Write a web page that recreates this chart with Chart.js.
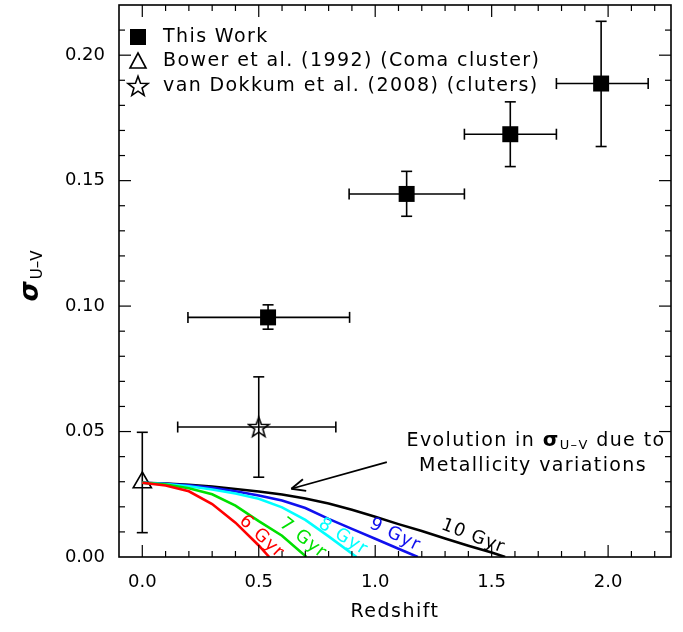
<!DOCTYPE html>
<html>
<head>
<meta charset="utf-8">
<script src="https://cdn.jsdelivr.net/npm/chart.js@4.4.0/dist/chart.umd.min.js"></script>
<style>
  html, body { margin: 0; padding: 0; background: #fff; }
  #wrap { width: 683px; height: 632px; }
</style>
</head>
<body>
<div id="wrap"><canvas id="chart"></canvas></div>
<script>
// --- This Work (filled squares) ---
const workZ   = [0.54, 1.135, 1.58, 1.97];
const workS   = [0.0955, 0.1447, 0.1685, 0.1887];
const workZLo = [0.196, 0.888, 1.383, 1.778];
const workZHi = [0.890, 1.383, 1.778, 2.172];
const workSLo = [0.0908, 0.1358, 0.1556, 0.1636];
const workSHi = [0.1005, 0.1537, 0.1814, 0.2135];

// --- Bower et al. (1992), Coma ---
const bowerZ   = [0.0];
const bowerS   = [0.0297];
const bowerSLo = [0.0097];
const bowerSHi = [0.0497];

// --- van Dokkum et al. (2008) ---
const vdkZ   = [0.5];
const vdkS   = [0.0518];
const vdkZLo = [0.152];
const vdkZHi = [0.831];
const vdkSLo = [0.0318];
const vdkSHi = [0.0718];

// --- metallicity tracks (formation ages) ---
const z6  = [0, 0.1, 0.2, 0.3, 0.4, 0.5, 0.545];
const s6  = [0.0296, 0.0285, 0.0262, 0.0211, 0.0137, 0.0046, 0];
const z7  = [0, 0.1, 0.2, 0.3, 0.4, 0.5, 0.6, 0.705];
const s7  = [0.0296, 0.0289, 0.0274, 0.025, 0.0205, 0.0143, 0.0085, 0];
const z8  = [0, 0.1, 0.2, 0.3, 0.4, 0.5, 0.6, 0.7, 0.8, 0.92];
const s8  = [0.0296, 0.0291, 0.0282, 0.0269, 0.0253, 0.0232, 0.0198, 0.0148, 0.0082, 0];
const z9  = [0, 0.1, 0.2, 0.3, 0.4, 0.5, 0.6, 0.7, 0.8, 0.9, 1.0, 1.1, 1.183];
const s9  = [0.0296, 0.0292, 0.0286, 0.0276, 0.0262, 0.0245, 0.0225, 0.0195, 0.0152, 0.0112, 0.0073, 0.0033, 0];
const z10 = [0, 0.1, 0.2, 0.3, 0.4, 0.5, 0.6, 0.7, 0.8, 0.9, 1.0, 1.1, 1.2, 1.3, 1.4, 1.5, 1.558];
const s10 = [0.0296, 0.0293, 0.0288, 0.0281, 0.0271, 0.0261, 0.0249, 0.0233, 0.0213, 0.0188, 0.016, 0.0131, 0.0104, 0.0074, 0.0045, 0.0018, 0];

const trackNames  = ['6 Gyr', '7 Gyr', '8 Gyr', '9 Gyr', '10 Gyr'];
const trackColors = ['#ff0000', '#00e000', '#00ffff', '#1010ee', '#000000'];

const xMin = -0.1, xMax = 2.27;
const yMin = 0, yMax = 0.22;

const FONT = "'DejaVu Sans', sans-serif";

function pairs(xs, ys) {
  return xs.map((v, i) => ({ x: v, y: ys[i] }));
}

// outline star drawn once, used as point style
function starPath(ctx, cx, cy, rOut, rIn) {
  ctx.beginPath();
  for (let i = 0; i < 10; i++) {
    const r = i % 2 === 0 ? rOut : rIn;
    const a = -Math.PI / 2 + i * Math.PI / 5;
    const px = cx + r * Math.cos(a), py = cy + r * Math.sin(a);
    if (i === 0) ctx.moveTo(px, py); else ctx.lineTo(px, py);
  }
  ctx.closePath();
}
const starImg = document.createElement('canvas');
starImg.width = 24; starImg.height = 24;
(function () {
  const c = starImg.getContext('2d');
  c.strokeStyle = '#000';
  c.lineWidth = 1.6;
  starPath(c, 12, 12.8, 10.5, 4.3);
  c.stroke();
})();

function line(ctx, x1, y1, x2, y2) {
  ctx.beginPath();
  ctx.moveTo(x1, y1);
  ctx.lineTo(x2, y2);
  ctx.stroke();
}

// error bars, drawn through the chart scales
const errorBars = {
  id: 'errorBars',
  beforeDatasetsDraw(chart) {
    const { ctx, scales: { x, y } } = chart;
    ctx.save();
    ctx.strokeStyle = '#000';
    ctx.lineWidth = 1.6;
    const draw = (zs, ss, zlo, zhi, slo, shi, cap) => {
      zs.forEach((z, i) => {
        const px = x.getPixelForValue(z), py = y.getPixelForValue(ss[i]);
        if (zlo && zhi) {
          const l = x.getPixelForValue(zlo[i]), r = x.getPixelForValue(zhi[i]);
          line(ctx, l, py, r, py);
          line(ctx, l, py - cap, l, py + cap);
          line(ctx, r, py - cap, r, py + cap);
        }
        if (slo && shi) {
          const b = y.getPixelForValue(slo[i]), t = y.getPixelForValue(shi[i]);
          line(ctx, px, b, px, t);
          line(ctx, px - cap, b, px + cap, b);
          line(ctx, px - cap, t, px + cap, t);
        }
      });
    };
    draw(workZ, workS, workZLo, workZHi, workSLo, workSHi, 5.5);
    draw(bowerZ, bowerS, null, null, bowerSLo, bowerSHi, 5.5);
    draw(vdkZ, vdkS, vdkZLo, vdkZHi, vdkSLo, vdkSHi, 5.5);
    ctx.restore();
  }
};

// box, inward ticks on all four sides, texts
const decorations = {
  id: 'decorations',
  afterDraw(chart) {
    const { ctx, chartArea: a, scales: { x, y } } = chart;
    ctx.save();
    ctx.strokeStyle = '#000';
    ctx.lineWidth = 1.2;
    for (let i = -1; i <= 23; i++) {
      const px = x.getPixelForValue(i / 10);
      if (px <= a.left + 1 || px >= a.right - 1) continue;
      const len = i % 5 === 0 ? 12 : 6;
      line(ctx, px, a.bottom, px, a.bottom - len);
      line(ctx, px, a.top, px, a.top + len);
    }
    for (let i = 0; i <= 22; i++) {
      const py = y.getPixelForValue(i / 100);
      if (py >= a.bottom - 1 || py <= a.top + 1) continue;
      const len = i % 5 === 0 ? 12 : 6;
      line(ctx, a.left, py, a.left + len, py);
      line(ctx, a.right, py, a.right - len, py);
    }
    ctx.lineWidth = 1.6;
    ctx.strokeRect(a.left, a.top, a.right - a.left, a.bottom - a.top);

    ctx.fillStyle = '#000';
    ctx.textBaseline = 'middle';
    ctx.textAlign = 'left';
    ctx.font = '19px ' + FONT;
    ctx.letterSpacing = '1.4px';

    // legend
    const lx = a.left + 19;
    ctx.fillRect(lx - 8, 29, 16, 16);
    ctx.lineWidth = 1.6;
    ctx.beginPath();
    ctx.moveTo(lx, 53); ctx.lineTo(lx + 8, 68); ctx.lineTo(lx - 8, 68); ctx.closePath();
    ctx.stroke();
    ctx.drawImage(starImg, lx - 12, 74);
    ctx.fillText('This Work', a.left + 44, 37);
    ctx.fillText('Bower et al. (1992) (Coma cluster)', a.left + 44, 61);
    ctx.fillText('van Dokkum et al. (2008) (cluters)', a.left + 44, 86);

    // annotation with arrow
    const parts = [
      { t: 'Evolution in ', f: '19px ' + FONT, dy: 0 },
      { t: 'σ', f: 'bold 20px ' + FONT, dy: 0 },
      { t: 'U\u2013V', f: '13px ' + FONT, dy: 5 },
      { t: ' due to', f: '19px ' + FONT, dy: 0 }
    ];
    let w = 0;
    parts.forEach(p => { ctx.font = p.f; p.w = ctx.measureText(p.t).width; w += p.w; });
    let cx = 536 - w / 2;
    parts.forEach(p => { ctx.font = p.f; ctx.fillText(p.t, cx, 441 + p.dy); cx += p.w; });
    ctx.font = '19px ' + FONT;
    ctx.textAlign = 'center';
    ctx.fillText('Metallicity variations', 533, 466);

    const tipX = x.getPixelForValue(0.64), tipY = y.getPixelForValue(0.0272);
    const tailX = x.getPixelForValue(1.05), tailY = y.getPixelForValue(0.0378);
    ctx.lineWidth = 1.8;
    line(ctx, tailX, tailY, tipX, tipY);
    const ang = Math.atan2(tailY - tipY, tailX - tipX);
    [0.42, -0.42].forEach(d => {
      line(ctx, tipX, tipY, tipX + 15 * Math.cos(ang + d), tipY + 15 * Math.sin(ang + d));
    });

    // track labels
    const lab = [
      { z: 0.512, s: 0.0080, r: 43 },
      { z: 0.690, s: 0.0074, r: 38 },
      { z: 0.862, s: 0.0080, r: 32 },
      { z: 1.085, s: 0.0088, r: 26 },
      { z: 1.420, s: 0.0082, r: 21 }
    ];
    ctx.font = '18px ' + FONT;
    ctx.letterSpacing = '1px';
    lab.forEach((l, i) => {
      ctx.save();
      ctx.translate(x.getPixelForValue(l.z), y.getPixelForValue(l.s));
      ctx.rotate(l.r * Math.PI / 180);
      ctx.fillStyle = trackColors[i];
      ctx.fillText(trackNames[i], 0, 0);
      ctx.restore();
    });

    // axis titles
    ctx.letterSpacing = '1.5px';
    ctx.font = '19px ' + FONT;
    ctx.fillStyle = '#000';
    ctx.fillText('Redshift', (a.left + a.right) / 2, 612);

    ctx.save();
    ctx.translate(38, 276);
    ctx.rotate(-Math.PI / 2);
    ctx.textAlign = 'left';
    ctx.textBaseline = 'alphabetic';
    ctx.letterSpacing = '0px';
    ctx.font = 'italic bold 26px ' + FONT;
    const sw = ctx.measureText('σ').width;
    ctx.font = '15px ' + FONT;
    const uw = ctx.measureText('U\u2013V').width;
    const start = -(sw + uw + 2) / 2;
    ctx.font = 'italic bold 26px ' + FONT;
    ctx.fillText('σ', start, 0);
    ctx.font = '15px ' + FONT;
    ctx.fillText('U\u2013V', start + sw + 2, 4);
    ctx.restore();

    ctx.restore();
  }
};

const trackData = [[z6, s6], [z7, s7], [z8, s8], [z9, s9], [z10, s10]];
const trackSets = trackData.map((t, i) => ({
  label: trackNames[i],
  data: pairs(t[0], t[1]),
  showLine: true,
  borderColor: trackColors[i],
  borderWidth: 2.6,
  pointRadius: 0,
  tension: 0,
  fill: false
}));

new Chart(document.getElementById('chart'), {
  type: 'scatter',
  data: {
    datasets: [
      ...trackSets,
      {
        label: 'This Work',
        data: pairs(workZ, workS),
        pointStyle: 'rect',
        pointRadius: 11.3,
        backgroundColor: '#000',
        borderColor: '#000',
        borderWidth: 0
      },
      {
        label: 'Bower et al. (1992) (Coma cluster)',
        data: pairs(bowerZ, bowerS),
        pointStyle: 'triangle',
        pointRadius: 10.5,
        backgroundColor: 'rgba(0,0,0,0)',
        borderColor: '#000',
        borderWidth: 1.6
      },
      {
        label: 'van Dokkum et al. (2008) (cluters)',
        data: pairs(vdkZ, vdkS),
        pointStyle: starImg,
        pointRadius: 12
      }
    ]
  },
  options: {
    responsive: true,
    maintainAspectRatio: false,
    animation: false,
    events: [],
    layout: { autoPadding: false, padding: { top: 5, right: 12, left: 0, bottom: 0 } },
    plugins: {
      legend: { display: false },
      tooltip: { enabled: false }
    },
    scales: {
      x: {
        type: 'linear',
        min: xMin,
        max: xMax,
        afterFit: s => { s.height = 75; s.paddingLeft = 0; s.paddingRight = 0; },
        grid: { display: false, drawTicks: false },
        border: { display: false },
        ticks: {
          stepSize: 0.5,
          includeBounds: false,
          padding: 15,
          color: '#000',
          font: { family: FONT, size: 18 },
          maxRotation: 0,
          callback: v => Number(v).toFixed(1)
        }
      },
      y: {
        type: 'linear',
        min: yMin,
        max: yMax,
        afterFit: s => { s.width = 119; s.paddingTop = 0; s.paddingBottom = 0; },
        grid: { display: false, drawTicks: false },
        border: { display: false },
        ticks: {
          stepSize: 0.05,
          includeBounds: false,
          padding: 14,
          color: '#000',
          font: { family: FONT, size: 18 },
          callback: v => Number(v).toFixed(2)
        }
      }
    }
  },
  plugins: [errorBars, decorations]
});
</script>
</body>
</html>
